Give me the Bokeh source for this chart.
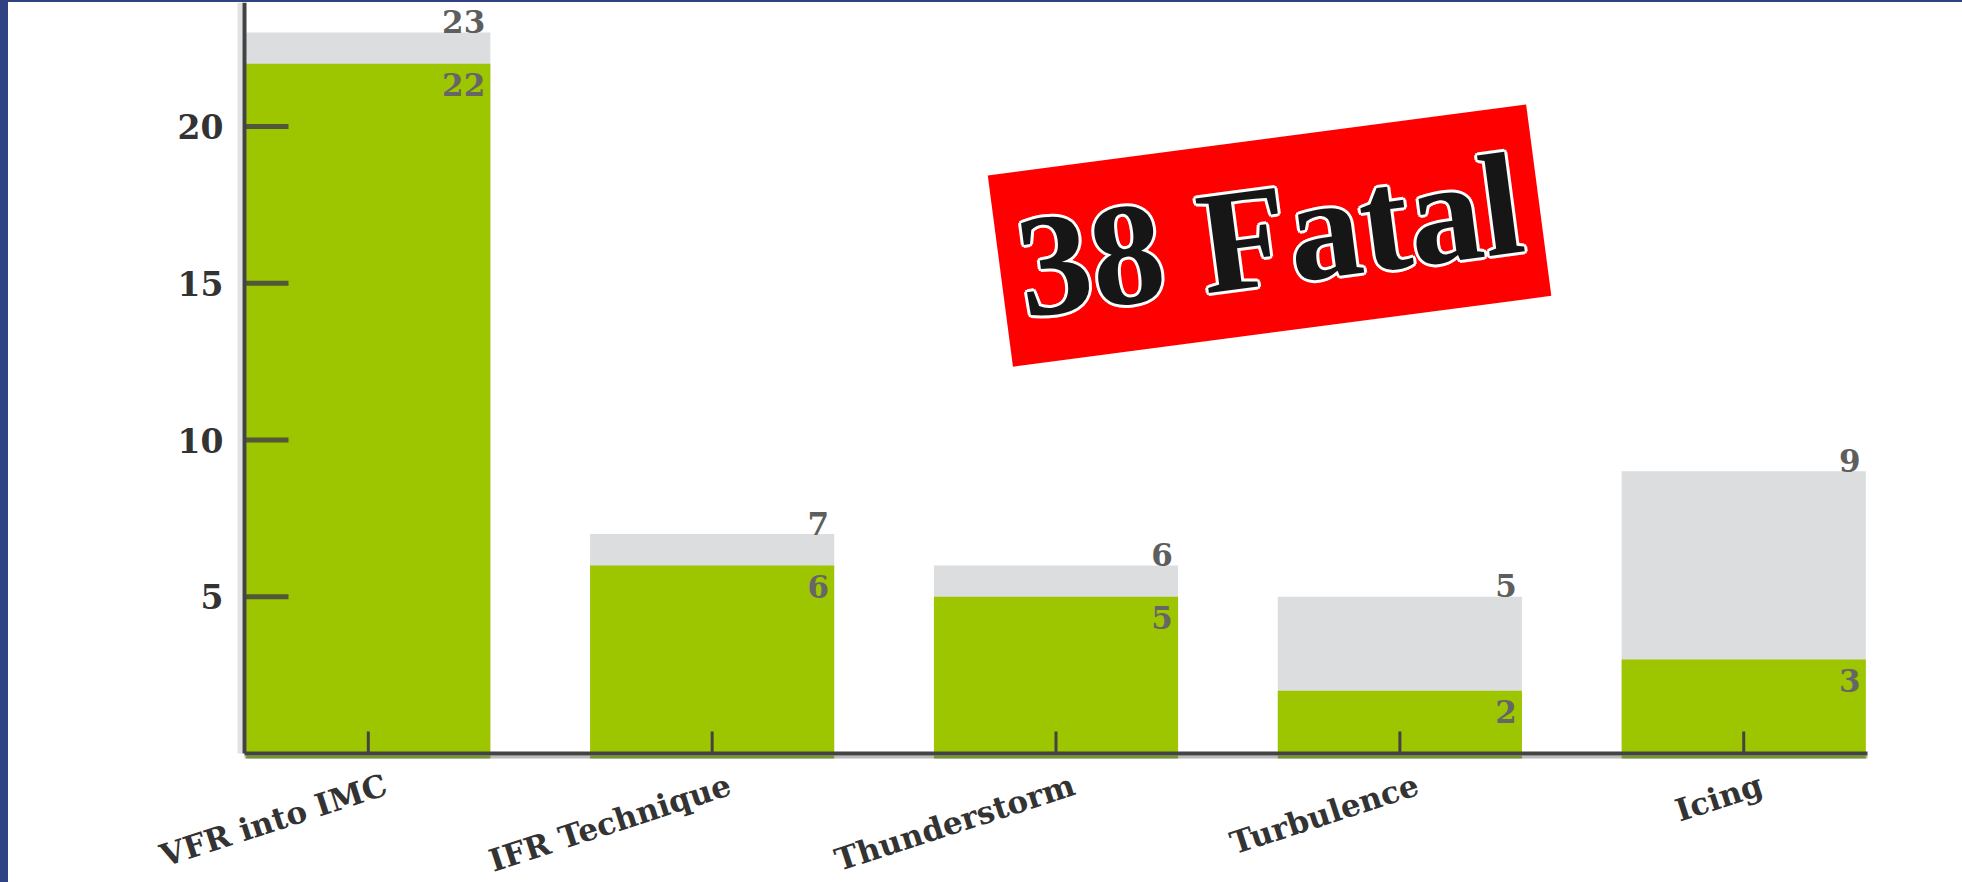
import math
from bokeh.plotting import figure
from bokeh.models import ColumnDataSource, Range1d
from bokeh.core.properties import value
from bokeh.transform import dodge
from bokeh.embed import file_html
from bokeh.resources import INLINE

# ---- data ----
categories = ["VFR into IMC", "IFR Technique", "Thunderstorm", "Turbulence", "Icing"]
total_accidents = [23, 7, 6, 5, 9]
fatal_accidents = [22, 6, 5, 2, 3]
y_ticks = [5, 10, 15, 20]
badge_text = "38 Fatal"

xs = list(range(len(categories)))
src = ColumnDataSource(dict(
    x=xs,
    zero=[0] * len(xs),
    cat=categories,
    total=total_accidents,
    fatal=fatal_accidents,
    total_lbl=[str(v) for v in total_accidents],
    fatal_lbl=[str(v) for v in fatal_accidents],
))
tick_src = ColumnDataSource(dict(y=y_ticks, lbl=[str(t) for t in y_ticks]))

# ---- layout / style ----
W, H = 1954, 880
BAR_W = 0.71
GREEN = "#9ec600"
GREY = "#dcdddf"
AXIS = "#434343"
X_LO, X_HI = -0.36, len(categories) - 1 + 0.36   # extent of the axes
PX_PER_X = 343.86                                 # screen px per category step
AXIS_LEFT_PX = 236                                # where the value axis sits
PX_PER_Y = 31.35
Y_TOP = 751 / PX_PER_Y
Y_BOTTOM = -(H - 751) / PX_PER_Y                  # room for slanted names

x_start = X_LO - AXIS_LEFT_PX / PX_PER_X
x_end = x_start + W / PX_PER_X

p = figure(width=W, height=H, output_backend="svg", toolbar_location=None,
           x_range=Range1d(x_start, x_end), y_range=Range1d(Y_BOTTOM, Y_TOP),
           min_border=0)
p.outline_line_color = None
p.background_fill_color = "white"
p.border_fill_color = "white"
p.styles = {"background-color": "white"}
p.xgrid.visible = False
p.ygrid.visible = False
p.xaxis.visible = False
p.yaxis.visible = False

# bars
p.vbar(x="x", top="total", width=BAR_W, source=src, fill_color=GREY, line_color=None)
p.vbar(x="x", top="fatal", width=BAR_W, source=src, fill_color=GREEN, line_color=None)

# soft shadows beside the axes
p.rect(x=[X_LO - 4.5 / PX_PER_X], y=[Y_TOP / 2], width=5, height=Y_TOP,
       width_units="screen", fill_color="#e2e2e2", line_color=None)
p.rect(x=[(X_LO + X_HI) / 2], y=[-3.5 / PX_PER_Y], width=X_HI - X_LO, height=3,
       height_units="screen", fill_color="#b9b9b9", line_color=None)
p.rect(x="x", y=-3.5 / PX_PER_Y, width=BAR_W, height=3, source=src,
       height_units="screen", fill_color="#76952a", line_color=None)

# axis lines
p.segment(x0=[X_LO], y0=[0], x1=[X_LO], y1=[Y_TOP], line_color=AXIS, line_width=4)
p.segment(x0=[X_LO], y0=[0], x1=[X_HI], y1=[0], line_color=AXIS, line_width=4)

# value-axis ticks (inward) and labels
p.ray(x=X_LO, y="y", source=tick_src, length=44, length_units="screen", angle=0,
      line_color=AXIS, line_width=5, line_alpha=0.85)
p.text(x=X_LO, y="y", text="lbl", source=tick_src, x_offset=-21,
       text_align="right", text_baseline="middle",
       text_font=value("DejaVu Serif"), text_font_style="bold",
       text_font_size="33px", text_color="#333333")

# category ticks (inward) and slanted names
p.ray(x="x", y="zero", source=src, length=22, length_units="screen",
      angle=math.pi / 2, line_color=AXIS, line_width=3)
p.text(x="x", y="zero", text="cat", source=src, x_offset=12, y_offset=13,
       angle=0.314, text_align="right", text_baseline="top",
       text_font=value("DejaVu Serif"), text_font_style="bold",
       text_font_size="31px", text_color="#333333")

# value labels at the right edge of each bar
lbl_font = value("DejaVu Serif")
edge_x = dodge("x", BAR_W / 2 - 0.015)
p.text(x=edge_x, y="total", text="total_lbl", source=src, y_offset=-11,
       text_align="right", text_baseline="middle", text_font=lbl_font,
       text_font_size="31px", text_font_style="bold", text_color="#5e5e5e")
p.text(x=edge_x, y="fatal", text="fatal_lbl", source=src, y_offset=21,
       text_align="right", text_baseline="middle", text_font=lbl_font,
       text_font_size="31px", text_font_style="bold", text_color="#666666")

# badge
badge_x, badge_y, badge_angle = 2.621, 16.52, 0.131
p.rect(x=[badge_x], y=[badge_y], width=543, height=193, angle=badge_angle,
       width_units="screen", height_units="screen",
       fill_color="#ff0000", line_color=None)
for dx, dy in [(-3, 0), (3, 0), (0, -3), (0, 3), (-2, -2), (2, -2), (-2, 2), (2, 2)]:
    p.text(x=[badge_x], y=[badge_y], text=[badge_text], angle=badge_angle,
           x_offset=dx, y_offset=dy,
           text_align="center", text_baseline="middle",
           text_font=value("Liberation Serif"), text_font_size="146px",
           text_font_style="bold", text_color="white")
p.text(x=[badge_x], y=[badge_y], text=[badge_text], angle=badge_angle,
       text_align="center", text_baseline="middle",
       text_font=value("Liberation Serif"), text_font_size="146px",
       text_font_style="bold", text_color="#161616")

html = file_html(p, INLINE, title="Weather accidents")
css = ("<style>html,body{background-color:#2f4383 !important;overflow:hidden !important;}"
       "body{padding:2px 0 0 8px !important;margin:0 !important;}</style>")
html = html.replace("</head>", css + "</head>", 1)
open("out.html", "w").write(html)
